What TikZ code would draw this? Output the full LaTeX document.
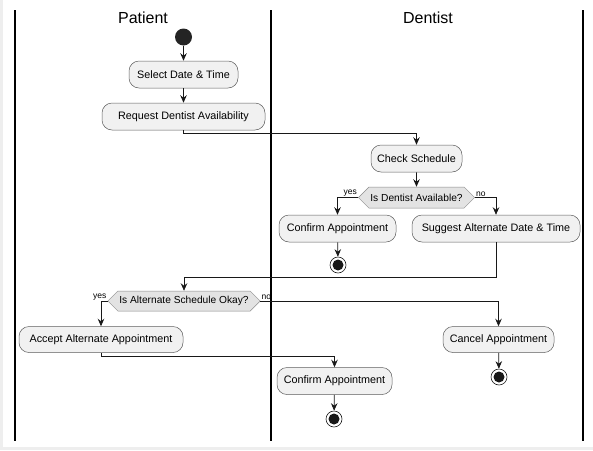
\documentclass[tikz,border=0pt]{standalone}
\usepackage{fontspec}
\setmainfont{Liberation Sans}
\usetikzlibrary{shapes.symbols, arrows.meta}
\definecolor{boxfill}{HTML}{F1F1F1}
\definecolor{ink}{HTML}{181818}
\definecolor{frame}{HTML}{EEEEEE}
\begin{document}
\begin{tikzpicture}[x = 1pt, y = -1pt, > = {Stealth[length = 7.5pt, width = 6.5pt, inset = 2.5pt]},
	action/.style = {draw = ink!70, fill = boxfill, rounded corners = 10pt, line width = 0.5pt, minimum height = 27pt, inner sep = 0pt, font = \fontsize{10.8}{12}\selectfont},
	choice/.style = {draw = ink!50, fill = boxfill!94!black, shape = signal, signal to = west and east, signal pointer angle = 90, line width = 0.5pt, minimum height = 21pt, inner xsep = 1.5pt, inner ysep = 0pt, font = \fontsize{10.2}{12}\selectfont},
	startdot/.style = {circle, fill = ink!95, minimum size = 17pt, inner sep = 0pt},
	enddot/.style = {circle, draw = ink, fill = white, line width = 0.6pt, minimum size = 16pt, inner sep = 0pt, path picture = {\fill [ink] (path picture bounding box.center) circle (5.5pt);}},
	flow/.style = {->, draw = ink, line width = 0.7pt},
	lane/.style = {line width = 1.2pt},
	tag/.style = {font = \fontsize{8.5}{10}\selectfont, inner sep = 1pt}]
	\useasboundingbox ( 0, 0 ) rectangle ( 593, 450 );
	\fill [frame] ( 0, 0 ) rectangle ( 3, 450 );
	\fill [frame] ( 0, 447 ) rectangle ( 593, 450 );
	% swimlanes
	\draw [lane] ( 15, 10 ) -- ( 15, 441 );
	\draw [lane] ( 271, 10 ) -- ( 271, 441 );
	\draw [lane] ( 583, 10 ) -- ( 583, 441 );
	\node [font = \fontsize{16}{18}\selectfont] (patient) at ( 143, 18 ) {Patient};
	\node [font = \fontsize{16}{18}\selectfont] (dentist) at ( 428, 18 ) {Dentist};
	% activities
	\node [startdot] (start) at ( 183.5, 37 ) {};
	\node [action, minimum width = 109pt] (select) at ( 183.5, 74.5 ) {Select Date \& Time};
	\node [action, minimum width = 163pt] (request) at ( 183.5, 116.5 ) {Request Dentist Availability};
	\node [action, minimum width = 91pt] (check) at ( 416.5, 158.5 ) {Check Schedule};
	\node [choice] (available) at ( 416.5, 197.5 ) {Is Dentist Available?};
	\node [action, minimum width = 117pt] (confirmA) at ( 337.5, 228.5 ) {Confirm Appointment};
	\node [action, minimum width = 168pt] (suggest) at ( 496, 228.5 ) {Suggest Alternate Date \& Time};
	\node [enddot] (stopA) at ( 338, 265 ) {};
	\node [choice, minimum height = 20pt] (okay) at ( 184, 301 ) {Is Alternate Schedule Okay?};
	\node [action, minimum width = 164pt, minimum height = 26pt] (accept) at ( 101, 339.5 ) {Accept Alternate Appointment};
	\node [action, minimum width = 111pt, minimum height = 26pt] (cancel) at ( 498.5, 339.5 ) {Cancel Appointment};
	\node [enddot] (stopB) at ( 499, 377 ) {};
	\node [action, minimum width = 115pt] (confirmB) at ( 334.5, 381 ) {Confirm Appointment};
	\node [enddot] (stopC) at ( 334, 419 ) {};
	% flows
	\draw [flow] (start) -- (select);
	\draw [flow] (select) -- (request);
	\draw [flow] (request.south) -- ++( 0, 3 ) -| (check.north);
	\draw [flow] (check) -- (available);
	\draw [flow] (available.west) -| (confirmA.north);
	\node [tag, anchor = south east] (yesA) at (available.west) {yes};
	\draw [flow] (available.east) -| (suggest.north);
	\node [tag, anchor = south west] (noA) at (available.east) {no};
	\draw [flow] (confirmA) -- (stopA);
	\draw [flow] (suggest.south) -- ++( 0, 35 ) -| (okay.north);
	\draw [flow] (okay.west) -| (accept.north);
	\node [tag, anchor = south east] (yesB) at (okay.west) {yes};
	\draw [flow] (okay.east) -| (cancel.north);
	\node [tag, anchor = south west] (noB) at (okay.east) {no};
	\draw [flow] (cancel) -- (stopB);
	\draw [flow] (accept.south) -- ++( 0, 4 ) -| (confirmB.north);
	\draw [flow] (confirmB) -- (stopC);
\end{tikzpicture}
\end{document}
